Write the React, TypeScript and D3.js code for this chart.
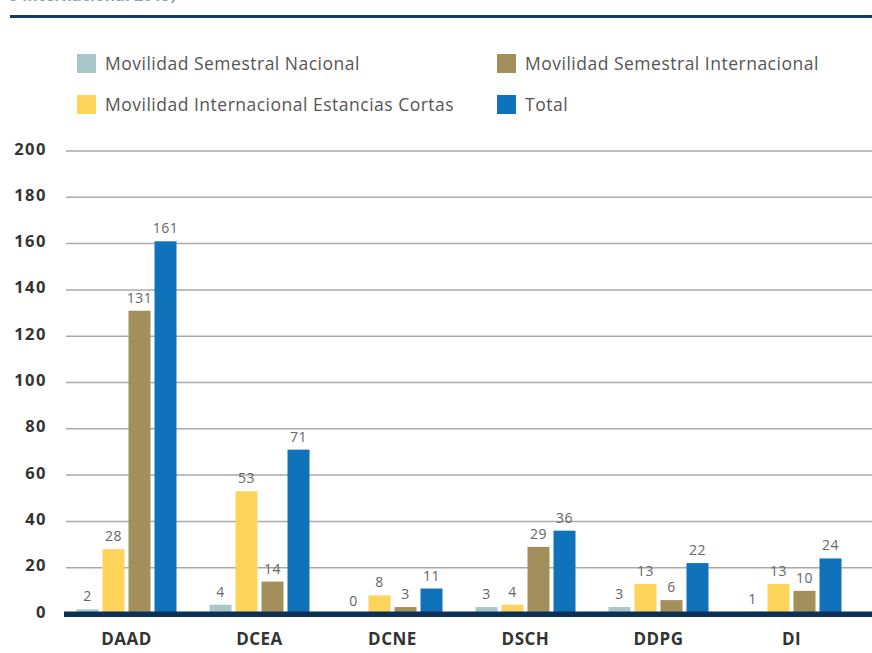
import React from "react";
import * as d3 from "d3";

const categories = ["DAAD", "DCEA", "DCNE", "DSCH", "DDPG", "DI"];
const seriesNames = [
  "Movilidad Semestral Nacional",
  "Movilidad Internacional Estancias Cortas",
  "Movilidad Semestral Internacional",
  "Total",
];
const nacional = [2, 4, 0, 3, 3, 1];
const estancias = [28, 53, 8, 4, 13, 13];
const internacional = [131, 14, 3, 29, 6, 10];
const total = [161, 71, 11, 36, 22, 24];
const yTicks = [0, 20, 40, 60, 80, 100, 120, 140, 160, 180, 200];

const colors = ["#a9c6c9", "#fed45a", "#a38f5c", "#1072bb"];
const series = [nacional, estancias, internacional, total];

const W = 872;
const H = 653;
const FONT = "'Open Sans', Lato, sans-serif";

export default function App() {
  const y = d3.scaleLinear().domain([0, 200]).range([614, 151]);
  const x = d3.scaleBand().domain(categories).range([60, 858]);
  const barW = 22;
  const gap = 4;
  const groupW = barW * 4 + gap * 3;

  const legend = [
    { name: seriesNames[0], color: colors[0], x: 77, y: 54 },
    { name: seriesNames[2], color: colors[2], x: 497, y: 54 },
    { name: seriesNames[1], color: colors[1], x: 77, y: 95 },
    { name: seriesNames[3], color: colors[3], x: 497, y: 95 },
  ];

  return (
    <svg
      width={W}
      height={H}
      style={{ position: "absolute", left: 0, top: 0, background: "#fff" }}
      fontFamily={FONT}
    >
      <text x={8} y={1} fontSize={16} fontWeight="bold" fill="#8aa0b8">
        o Internacional 2019)
      </text>
      <rect x={10} y={15} width={862} height={3} fill="#163a5f" />

      {legend.map((l) => (
        <g key={l.name}>
          <rect x={l.x} y={l.y} width={19} height={19} fill={l.color} />
          <text
            x={l.x + 28}
            y={l.y + 9}
            dominantBaseline="central"
            fontSize={17.5}
            letterSpacing={0.5}
            fill="#555"
          >
            {l.name}
          </text>
        </g>
      ))}

      {yTicks.map((t) => (
        <g key={t}>
          {t > 0 && (
            <line x1={66} x2={872} y1={y(t)} y2={y(t)} stroke="#aaa" strokeWidth={1.5} />
          )}
          <text
            x={47}
            y={y(t) - 3}
            textAnchor="end"
            dominantBaseline="central"
            fontSize={16.5}
            letterSpacing={1.5}
            fontWeight="bold"
            fill="#333"
          >
            {t}
          </text>
        </g>
      ))}

      {categories.map((c, ci) => {
        const x0 = (x(c) as number) + x.bandwidth() / 2 - groupW / 2;
        return (
          <g key={c}>
            {series.map((s, si) => {
              const bx = x0 + si * (barW + gap);
              const v = s[ci];
              return (
                <g key={si}>
                  <rect
                    x={bx}
                    y={y(v)}
                    width={barW}
                    height={y(0) - y(v)}
                    fill={colors[si]}
                  />
                  <text
                    x={bx + barW / 2}
                    y={y(v) - 8}
                    textAnchor="middle"
                    fontSize={14}
                    letterSpacing={0.5}
                    fill="#666"
                  >
                    {v}
                  </text>
                </g>
              );
            })}
            <text
              x={(x(c) as number) + x.bandwidth() / 2}
              y={645}
              textAnchor="middle"
              fontSize={17}
              letterSpacing={0.5}
              fontWeight="bold"
              fill="#333"
            >
              {c}
            </text>
          </g>
        );
      })}

      <rect x={64} y={611.5} width={808} height={5.5} fill="#0d3056" />
    </svg>
  );
}
